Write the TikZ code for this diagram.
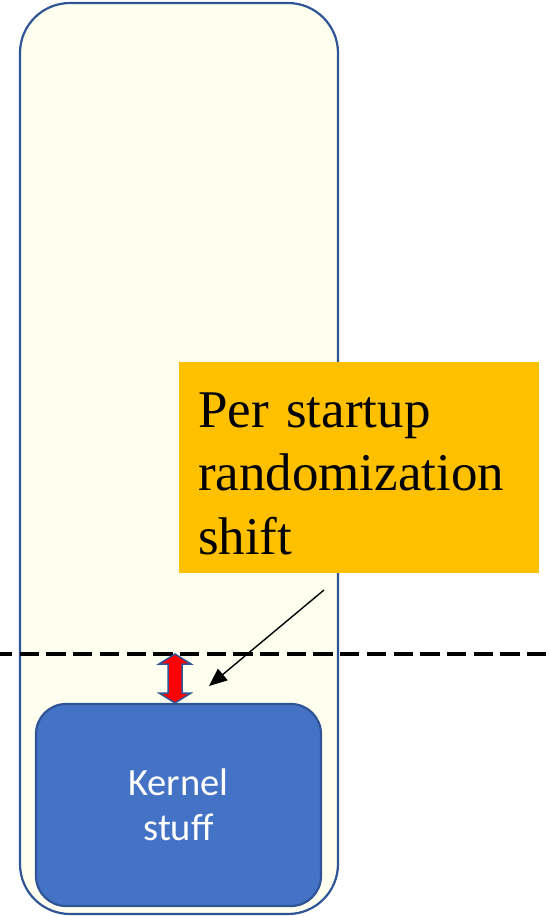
\documentclass[tikz,border=0pt]{standalone}
\usepackage{fontspec}
\setmainfont{Liberation Serif}
\newfontfamily\kernelfont{Carlito}
\usetikzlibrary{arrows.meta}
\definecolor{spaceyellow}{HTML}{FFFFF0}
\definecolor{edgeblue}{HTML}{2F5597}
\definecolor{kernelblue}{HTML}{4472C4}
\definecolor{noteorange}{HTML}{FFC000}

\begin{document}
\begin{tikzpicture}[x=1pt, y=-1pt,
		spacebox/.style={draw=edgeblue, line width=2.2pt, fill=spaceyellow, rounded corners=50pt, minimum width=318pt, minimum height=911pt},
		kernelbox/.style={draw=edgeblue, line width=2.2pt, fill=kernelblue, rounded corners=30pt, minimum width=285pt, minimum height=202pt, text=white, align=center, font=\kernelfont\fontsize{38.5}{45}\selectfont},
		notebox/.style={fill=noteorange, minimum width=360pt, minimum height=211pt, text width=322pt, inner xsep=19pt, align=left, font=\fontsize{53}{63.5}\selectfont}]
		%%%%% START %%%%%
		\useasboundingbox (0, 0) rectangle (549, 916);
		
		\node[spacebox] (space) at (179, 458.5) {};
		\node[kernelbox] (kernel) at (178.5, 805) {Kernel\\stuff};
		
		\draw[line width=3.2pt, dash pattern=on 19.3pt off 7.4pt, dash phase=7pt] (0, 654) -- (549, 654);
		
		\draw[fill=red, draw=edgeblue, line width=1.5pt] (175, 654) -- (191, 664) -- (182, 664) -- (182, 693) -- (191, 693) -- (175, 703) -- (159, 693) -- (168, 693) -- (168, 664) -- (159, 664) -- cycle;
		
		\node[notebox] (shift) at (359, 467.5) {\rule{0pt}{47pt}Per startup\\randomization\\shift};
		
		\coordinate (shiftfrom) at (324, 590);
		\coordinate (shiftto) at (209, 686);
		\draw[line width=1.4pt, -{Triangle[length=18pt, width=15pt]}] (shiftfrom) -- (shiftto);
		%%%%% END %%%%%
	\end{tikzpicture}
\end{document}
